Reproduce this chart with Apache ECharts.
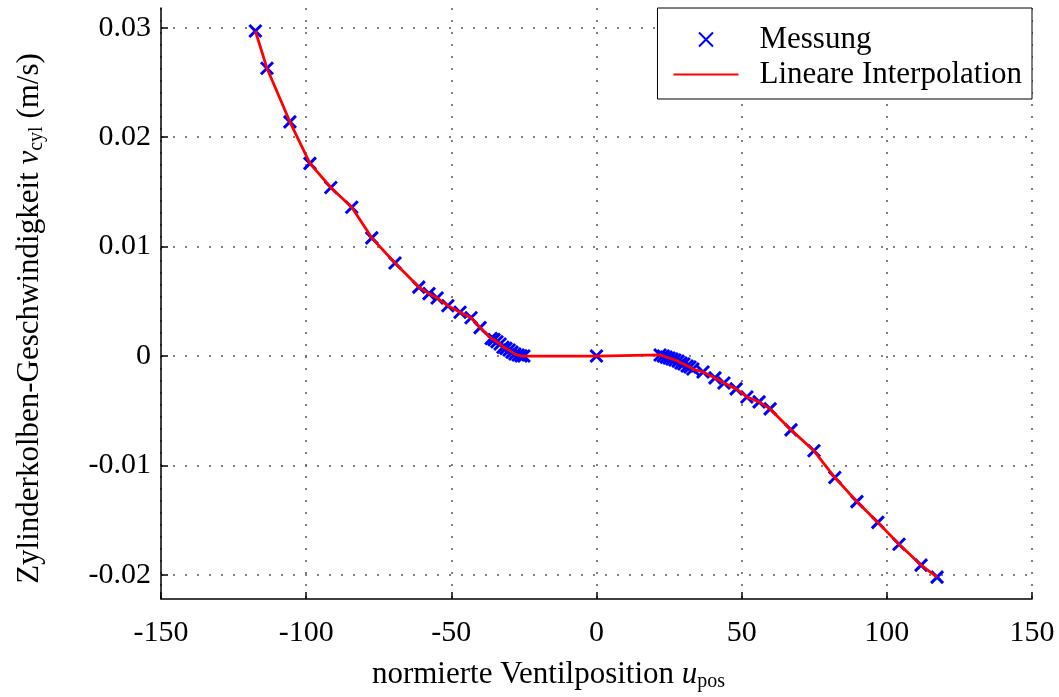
<!DOCTYPE html>
<html>
<head>
<meta charset="utf-8">
<script src="https://cdn.jsdelivr.net/npm/echarts@6/dist/echarts.min.js"></script>
<style>
    html, body { margin: 0; padding: 0; background: #fff; }
    #chart { width: 1059px; height: 697px; }
</style>
</head>
<body>
<div id="chart"></div>
<script>
    // Messwerte: normierte Ventilposition und Zylindergeschwindigkeit
    var uPos = [-117.5, -113.5, -105.6, -98.7, -91.5, -84.3, -77.4, -69.4, -61.2, -57.7,
        -54.9, -51.2, -47.0, -43.2, -40.1, -36.3, -35.3, -34.3, -33.2, -32.2,
        -31.2, -30.1, -29.1, -28.1, -27.0, -26.0, -25.0, 0, 21.9, 23.0,
        24.0, 25.0, 26.0, 27.0, 28.1, 29.1, 30.1, 31.2, 32.2, 33.2,
        36.7, 40.8, 43.9, 48.1, 51.8, 56.0, 59.8, 67.0, 74.9, 82.1,
        89.7, 96.9, 104.2, 111.8, 117.3];
    var vCyl = [0.0297, 0.0263, 0.0214, 0.0176, 0.0154, 0.0136, 0.0108, 0.0085, 0.0063, 0.0057,
        0.0053, 0.0046, 0.0040, 0.0035, 0.0026, 0.0016, 0.0015, 0.0013, 0.0011, 0.0008,
        0.0007, 0.00055, 0.00036, 0.00018, 0.00009, 0.00002, 0, 0, 0.0001, 0,
        -0.0001, -0.00018, -0.00027, -0.00036, -0.00046, -0.00064, -0.00073, -0.00091, -0.001, -0.00119,
        -0.00146, -0.002, -0.00246, -0.003, -0.00374, -0.00419, -0.00483, -0.00675, -0.00866, -0.0111,
        -0.0133, -0.0152, -0.0172, -0.0191, -0.0202];
    var xTicks = [-150, -100, -50, 0, 50, 100, 150];

    var points = uPos.map(function (u, i) { return [u, vCyl[i]]; });
    var serif = '"Liberation Serif", "DejaVu Serif", serif';
    var gridLine = { show: true, lineStyle: { color: '#555', width: 1.5, type: [2, 10] } };
    var titleRich = {
        t: { fontFamily: serif, fontSize: 31, color: '#000' },
        i: { fontFamily: serif, fontSize: 31, fontStyle: 'italic', color: '#000' },
        s: { fontFamily: serif, fontSize: 20, color: '#000', lineHeight: 20, padding: [15, 0, 0, 0] }
    };

    var myChart = echarts.init(document.getElementById('chart'));
    myChart.setOption({
        backgroundColor: '#fff',
        animation: false,
        textStyle: { fontFamily: serif, color: '#000' },
        grid: { left: 161, right: 27, top: 8, bottom: 97 },
        legend: {
            right: 27,
            top: 8,
            orient: 'vertical',
            backgroundColor: '#fff',
            borderColor: '#000',
            borderWidth: 1,
            borderRadius: 0,
            padding: [16, 10, 9, 15],
            itemGap: 4,
            itemWidth: 65,
            itemHeight: 14,
            textStyle: { fontFamily: serif, fontSize: 31, color: '#000', padding: [0, 0, 0, 16] },
            data: [
                'Messung',
                { name: 'Lineare Interpolation', itemStyle: { opacity: 0 } }
            ]
        },
        xAxis: {
            type: 'value',
            min: xTicks[0],
            max: xTicks[xTicks.length - 1],
            interval: 50,
            name: '{t|normierte Ventilposition }{i|u}{s|pos}',
            nameLocation: 'middle',
            nameGap: 60,
            nameTextStyle: { padding: [0, 96, 0, 0], rich: titleRich },
            axisLine: { onZero: false, lineStyle: { color: '#000', width: 1.5 } },
            axisTick: { inside: true, length: 7, lineStyle: { color: '#000', width: 1.5 } },
            axisLabel: { fontFamily: serif, fontSize: 30, color: '#000', margin: 19 },
            splitLine: gridLine
        },
        yAxis: {
            type: 'value',
            min: -0.0222,
            max: 0.0318,
            splitNumber: 5,
            name: '{t|Zylinderkolben-Geschwindigkeit }{i|v}{s|cyl}{t| (m/s)}',
            nameLocation: 'middle',
            nameGap: 116,
            nameRotate: 90,
            nameTextStyle: { padding: [0, 30, 0, 0], rich: titleRich },
            axisLine: { onZero: false, lineStyle: { color: '#000', width: 1.5 } },
            axisTick: { inside: true, length: 7, lineStyle: { color: '#000', width: 1.5 } },
            axisLabel: {
                fontFamily: serif, fontSize: 30, color: '#000', margin: 10,
                showMinLabel: false, showMaxLabel: false,
                formatter: function (v) { return String(+v.toFixed(3)); }
            },
            splitLine: Object.assign({ showMinLine: false, showMaxLine: false }, gridLine)
        },
        series: [
            {
                name: 'Messung',
                type: 'scatter',
                data: points,
                symbol: 'path://M0,0L10,10M10,0L0,10',
                symbolSize: 12,
                itemStyle: { color: '#0000ff', borderColor: '#0000ff', borderWidth: 3, opacity: 1 },
                z: 2
            },
            {
                name: 'Lineare Interpolation',
                type: 'line',
                data: points,
                symbol: 'none',
                lineStyle: { color: '#ff0000', width: 2.8 },
                itemStyle: { color: '#ff0000' },
                z: 3
            }
        ]
    });
</script>
</body>
</html>
